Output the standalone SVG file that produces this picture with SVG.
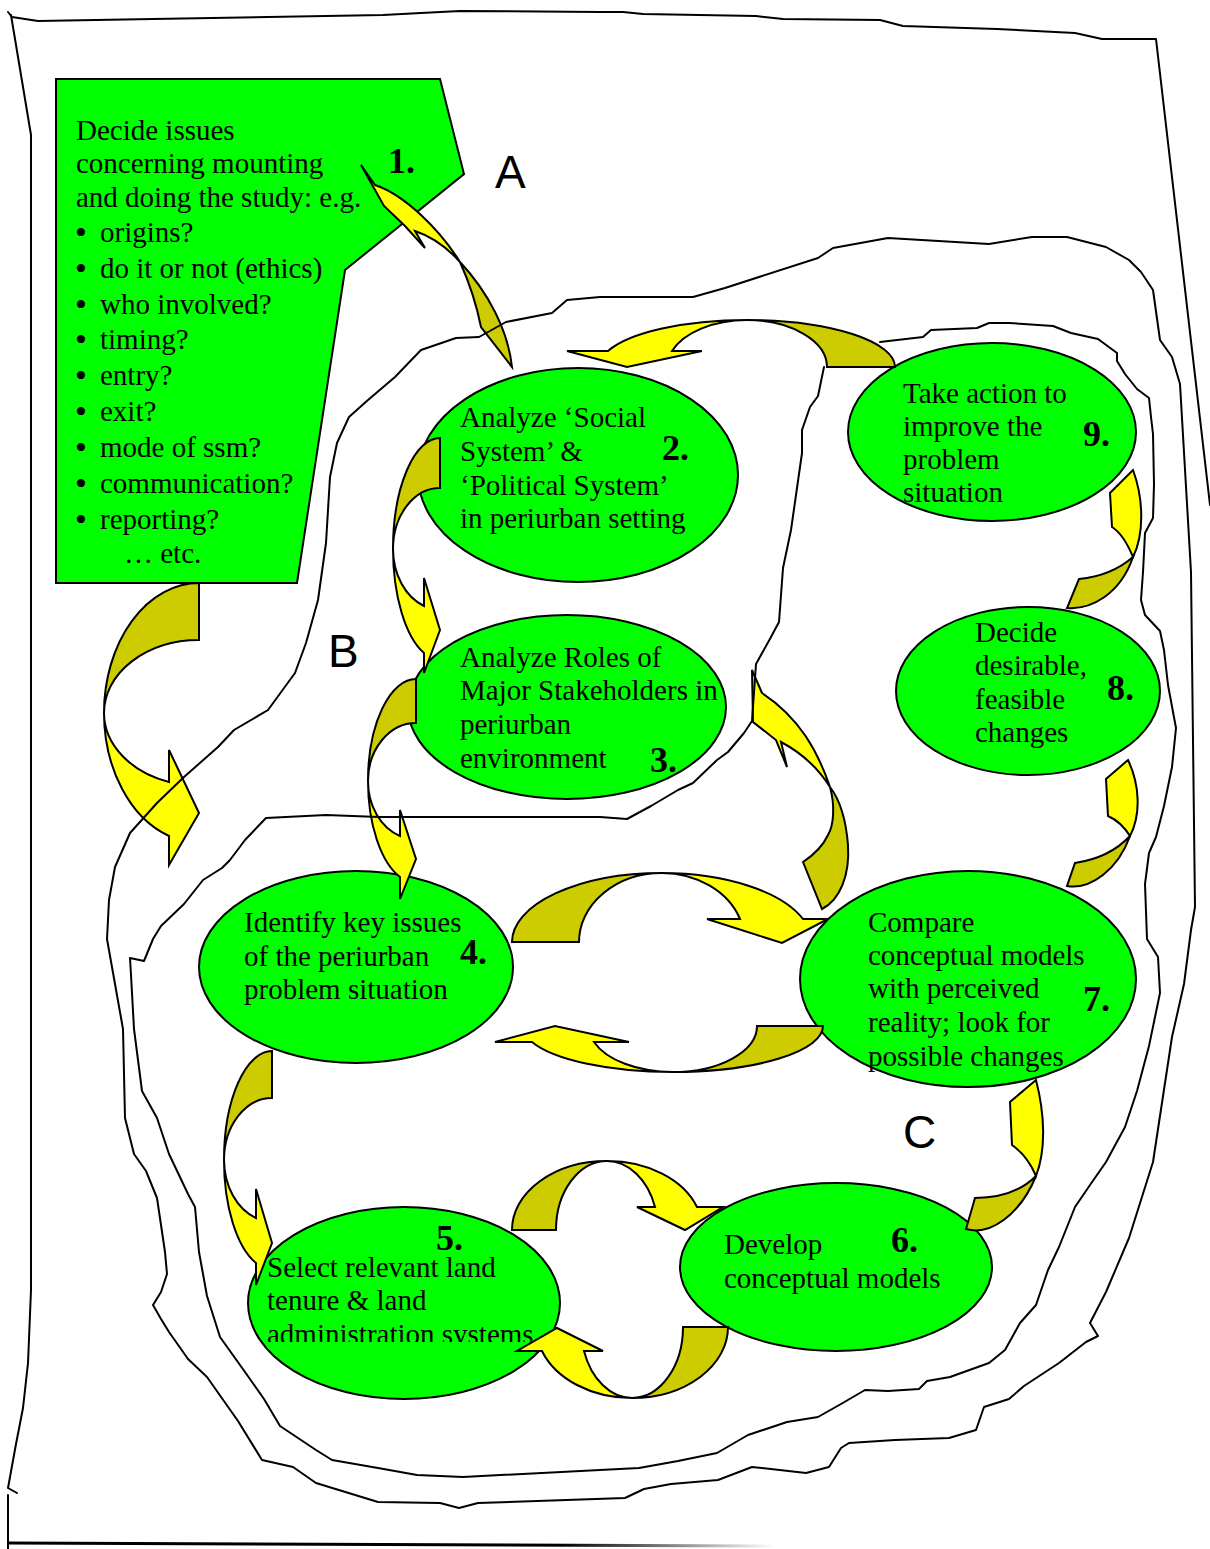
<svg xmlns="http://www.w3.org/2000/svg" width="1210" height="1549" viewBox="0 0 1210 1549">
<style>
  .ln{fill:none;stroke:#000;stroke-width:2;stroke-linejoin:round;stroke-linecap:round}
  .nd{fill:#00FF00;stroke:#000;stroke-width:2}
  .fr{fill:#FFFF00;stroke:#000;stroke-width:2;stroke-linejoin:miter}
  .bk{fill:#CCCC00;stroke:#000;stroke-width:2;stroke-linejoin:miter}
  .t{font-family:"Liberation Serif","Times New Roman",serif;font-size:29px;fill:#000}
  .b{font-size:34px}
  .n{font-family:"Liberation Serif","Times New Roman",serif;font-size:36px;font-weight:bold;fill:#000}
  .r{font-family:"Liberation Sans",Arial,sans-serif;font-size:46px;fill:#000}
</style>
<defs>
  <linearGradient id="fade" gradientUnits="userSpaceOnUse" x1="8" y1="0" x2="775" y2="0">
    <stop offset="0.72" stop-color="#000"/>
    <stop offset="1" stop-color="#fff"/>
  </linearGradient>
  <clipPath id="clip5"><rect x="240" y="1200" width="330" height="142"/></clipPath>
</defs>
<rect width="1210" height="1549" fill="#fff"/>

<!-- outer sheet outline -->
<g id="frame">
  <path class="ln" d="M8,12 L12,17 L38,21 L153,19 L268,17 L383,15 L421,13 L460,11 L600,12 L623,12 L643,14 L756,16 L783,19 L880,20 L903,26 L997,29 L1075,33 L1102,39 L1156,39 L1210,505"/>
  <path class="ln" d="M11,15 L31,135 L31,1290 L28,1363 L23,1408 L16,1444 L8,1488 L17,1493"/>
  <path class="ln" d="M8,1495 L8,1549"/>
  <path d="M8,1543 L775,1546" fill="none" stroke="url(#fade)" stroke-width="3"/>
</g>

<!-- process steps -->
<g id="node1">
  <path class="nd" d="M56,79 L440,79 L464,174 L345,270 L297,583 L56,583 Z"/>
  <text class="t"><tspan x="76" y="140">Decide issues</tspan><tspan x="76" y="173">concerning mounting</tspan><tspan x="76" y="207">and doing the study: e.g.</tspan></text>
  <text class="t">
    <tspan class="b" x="75" y="244">•</tspan><tspan x="100" y="242">origins?</tspan>
    <tspan class="b" x="75" y="280">•</tspan><tspan x="100" y="278">do it or not (ethics)</tspan>
    <tspan class="b" x="75" y="316">•</tspan><tspan x="100" y="314">who involved?</tspan>
    <tspan class="b" x="75" y="351">•</tspan><tspan x="100" y="349">timing?</tspan>
    <tspan class="b" x="75" y="387">•</tspan><tspan x="100" y="385">entry?</tspan>
    <tspan class="b" x="75" y="423">•</tspan><tspan x="100" y="421">exit?</tspan>
    <tspan class="b" x="75" y="459">•</tspan><tspan x="100" y="457">mode of ssm?</tspan>
    <tspan class="b" x="75" y="495">•</tspan><tspan x="100" y="493">communication?</tspan>
    <tspan class="b" x="75" y="531">•</tspan><tspan x="100" y="529">reporting?</tspan>
    <tspan x="124" y="563">… etc.</tspan>
  </text>
  <text class="n" x="388" y="173">1.</text>
</g>

<g id="node2">
  <ellipse class="nd" cx="578" cy="475" rx="160" ry="107"/>
  <text class="t"><tspan x="460" y="427">Analyze ‘Social</tspan><tspan x="460" y="461">System’ &amp;</tspan><tspan x="460" y="495">‘Political System’</tspan><tspan x="460" y="528">in periurban setting</tspan></text>
  <text class="n" x="662" y="460">2.</text>
</g>

<g id="node3">
  <ellipse class="nd" cx="567" cy="707" rx="159" ry="92"/>
  <text class="t"><tspan x="460" y="667">Analyze Roles of</tspan><tspan x="460" y="700">Major Stakeholders in</tspan><tspan x="460" y="734">periurban</tspan><tspan x="460" y="768">environment</tspan></text>
  <text class="n" x="650" y="772">3.</text>
</g>

<g id="node4">
  <ellipse class="nd" cx="356" cy="967" rx="157" ry="96"/>
  <text class="t"><tspan x="244" y="932">Identify key issues</tspan><tspan x="244" y="966">of the periurban</tspan><tspan x="244" y="999">problem situation</tspan></text>
  <text class="n" x="460" y="964">4.</text>
</g>

<g id="node5">
  <ellipse class="nd" cx="404" cy="1303" rx="156" ry="96"/>
  <text class="n" x="436" y="1250">5.</text>
  <text class="t" clip-path="url(#clip5)"><tspan x="267" y="1277">Select relevant land</tspan><tspan x="267" y="1310">tenure &amp; land</tspan><tspan x="267" y="1344">administration systems</tspan></text>
</g>

<g id="node6">
  <ellipse class="nd" cx="836" cy="1267" rx="156" ry="84"/>
  <text class="t"><tspan x="724" y="1254">Develop</tspan><tspan x="724" y="1288">conceptual models</tspan></text>
  <text class="n" x="891" y="1252">6.</text>
</g>

<g id="node7">
  <ellipse class="nd" cx="968" cy="979" rx="168" ry="108"/>
  <text class="t"><tspan x="868" y="932">Compare</tspan><tspan x="868" y="965">conceptual models</tspan><tspan x="868" y="998">with perceived</tspan><tspan x="868" y="1032">reality; look for</tspan><tspan x="868" y="1066">possible changes</tspan></text>
  <text class="n" x="1083" y="1011">7.</text>
</g>

<g id="node8">
  <ellipse class="nd" cx="1028" cy="691" rx="132" ry="84"/>
  <text class="t"><tspan x="975" y="642">Decide</tspan><tspan x="975" y="675">desirable,</tspan><tspan x="975" y="709">feasible</tspan><tspan x="975" y="742">changes</tspan></text>
  <text class="n" x="1107" y="700">8.</text>
</g>

<g id="node9">
  <ellipse class="nd" cx="992" cy="432" rx="144" ry="89"/>
  <text class="t"><tspan x="903" y="403">Take action to</tspan><tspan x="903" y="436">improve the</tspan><tspan x="903" y="469">problem</tspan><tspan x="903" y="502">situation</tspan></text>
  <text class="n" x="1083" y="446">9.</text>
</g>

<!-- curved two-tone arrows: olive = back of the band, yellow = front with head -->
<g id="connectors">
  <!-- 1 / 2 -->
  <path class="bk" d="M460,262 C488,292 508,330 512,367 L481,327 C476,302 469,282 460,262 Z"/>
  <path class="fr" d="M361,165 L375,185 C405,195 440,230 460,262 C445,245 430,236 415,231 L425,248 L405,226 L384,206 Z"/>
  <!-- 1 to region B -->
  <path class="bk" d="M199,583 A95,130 0 0,0 104,713 A95,73 0 0,1 199,640 Z"/>
  <path class="fr" d="M104,713 A95,130 0 0,0 169,836 L169,865 L199,813 L169,750 L169,782 A95,73 0 0,1 104,713 Z"/>
  <!-- 2 to 3 -->
  <path class="bk" d="M440,438 A47,111 0 0,0 393,549 A47,61 0 0,1 440,488 Z"/>
  <path class="fr" d="M393,549 A47,111 0 0,0 424,653 L424,673 L440,630 L424,578 L424,606 A47,61 0 0,1 393,549 Z"/>
  <!-- 3 to 4 -->
  <path class="bk" d="M416,679 A48,102 0 0,0 368,781 A48,58 0 0,1 416,723 Z"/>
  <path class="fr" d="M368,781 A48,102 0 0,0 400,877 L400,899 L416,859 L400,810 L400,836 A48,58 0 0,1 368,781 Z"/>
  <!-- 4 to 5 -->
  <path class="bk" d="M272,1051 A48,109 0 0,0 224,1160 A48,62 0 0,1 272,1098 Z"/>
  <path class="fr" d="M224,1160 A48,109 0 0,0 256,1263 L256,1285 L272,1243 L256,1189 L256,1218 A48,62 0 0,1 224,1160 Z"/>
  <!-- 5 to 6 -->
  <path class="bk" d="M512,1230 A95,69 0 0,1 607,1161 A51,69 0 0,0 556,1230 Z"/>
  <path class="fr" d="M607,1161 A95,69 0 0,1 697,1207 L723,1207 L685,1230 L637,1207 L655,1207 A51,69 0 0,0 607,1161 Z"/>
  <!-- 6 to 5 -->
  <path class="bk" d="M728,1327 A96,71 0 0,1 632,1398 A51,71 0 0,0 683,1327 Z"/>
  <path class="fr" d="M632,1398 A96,71 0 0,1 542,1351 L517,1351 L557,1328 L603,1351 L584,1351 A51,71 0 0,0 632,1398 Z"/>
  <!-- 4 to 7 -->
  <path class="bk" d="M512,942 A150,69 0 0,1 662,873 A83,69 0 0,0 579,942 Z"/>
  <path class="fr" d="M662,873 A150,69 0 0,1 803,919 L828,919 L782,943 L707,919 L740,919 A83,69 0 0,0 662,873 Z"/>
  <!-- 7 to 4 -->
  <path class="bk" d="M823,1026 A150,46 0 0,1 673,1072 A84,46 0 0,0 757,1026 Z"/>
  <path class="fr" d="M673,1072 A150,46 0 0,1 532,1042 L495,1042 L555,1026 L629,1042 L594,1042 A84,46 0 0,0 673,1072 Z"/>
  <!-- 9 to 2 -->
  <path class="bk" d="M895,367 A148,47 0 0,0 747,320 A80,47 0 0,1 827,367 Z"/>
  <path class="fr" d="M747,320 A148,47 0 0,0 608,351 L567,351 L627,367 L702,351 L672,351 A80,47 0 0,1 747,320 Z"/>
  <!-- 7 to 3 -->
  <path class="bk" d="M803,862 L822,909 C840,900 850,875 848,845 C846,820 840,800 830,787 C835,805 834,825 828,835 C822,848 812,856 803,862 Z"/>
  <path class="fr" d="M830,787 C818,752 800,718 762,693 L752,670 L753,722 L776,740 L787,767 L781,742 C800,752 818,768 830,787 Z"/>
  <!-- 6 to 7 -->
  <path class="bk" d="M966,1229 C990,1236 1020,1215 1036,1176 C1020,1192 1000,1198 975,1198 Z"/>
  <path class="fr" d="M1036,1176 C1046,1150 1045,1115 1036,1080 L1010,1102 L1012,1145 C1022,1152 1030,1162 1036,1176 Z"/>
  <!-- 7 to 8 -->
  <path class="bk" d="M1067,886 C1090,890 1118,870 1130,836 C1115,852 1095,860 1075,863 Z"/>
  <path class="fr" d="M1130,836 C1141,815 1140,785 1128,760 L1106,779 L1108,816 C1117,820 1125,828 1130,836 Z"/>
  <!-- 8 to 9 -->
  <path class="bk" d="M1067,608 C1090,610 1120,595 1133,557 C1118,570 1100,577 1079,579 Z"/>
  <path class="fr" d="M1133,557 C1144,535 1144,500 1133,470 L1110,493 L1112,527 C1120,532 1128,545 1133,557 Z"/>
</g>

<!-- hand-drawn region boundaries -->
<g id="regions">
  <path class="ln" d="M368,400 L395,377 L421,350 L456,338 L479,337 L506,322 L552,313 L567,300 L600,297 L693,297 L725,288 L818,258 L833,248 L888,238 L989,244 L1032,237 L1067,237 L1106,247 L1129,260 L1141,272 L1153,290 L1160,340 L1172,357 L1180,384 L1191,572 L1195,907 L1191,930 L1184,984 L1172,1037 L1153,1162 L1129,1238 L1106,1292 L1090,1323 L1098,1336 L1086,1342 L1059,1363 L1024,1386 L1009,1399 L984,1407 L976,1430 L949,1438 L895,1440 L849,1443 L841,1448 L829,1467 L806,1473 L752,1467 L718,1480 L671,1484 L644,1489 L625,1498 L478,1503 L459,1508 L440,1503 L378,1502 L316,1483 L293,1467 L262,1460 L238,1421 L207,1377 L188,1359 L169,1332 L161,1319 L153,1305 L161,1292 L167,1274 L165,1252 L157,1198 L146,1171 L134,1154 L125,1118 L123,1029 L115,984 L107,939 L109,900 L115,867 L130,833 L157,803 L184,777 L218,747 L234,730 L268,710 L295,673 L306,643 L318,600 L326,543 L330,477 L337,443 L349,417 Z"/>
  <path class="ln" d="M880,342 L923,337 L931,330 L977,328 L989,323 L1009,323 L1053,326 L1071,333 L1098,339 L1117,353 L1117,361 L1125,374 L1137,389 L1149,398 L1151,417 L1153,434 L1154,484 L1153,518 L1145,533 L1143,572 L1141,600 L1145,615 L1160,631 L1164,650 L1168,685 L1176,728 L1172,767 L1164,806 L1156,837 L1149,853 L1145,884 L1147,939 L1158,957 L1160,993 L1149,1046 L1137,1091 L1125,1127 L1106,1162 L1090,1185 L1075,1207 L1059,1247 L1048,1270 L1036,1305 L1020,1323 L1005,1350 L989,1363 L950,1377 L927,1381 L919,1389 L888,1391 L865,1390 L841,1404 L818,1417 L787,1422 L748,1435 L717,1453 L678,1461 L639,1468 L600,1470 L463,1477 L417,1475 L378,1468 L332,1460 L316,1450 L280,1426 L264,1399 L245,1372 L220,1337 L207,1296 L199,1252 L195,1207 L188,1194 L169,1154 L157,1118 L142,1091 L134,1029 L131,975 L130,958 L144,961 L153,939 L161,926 L184,904 L203,880 L222,868 L230,860 L245,840 L266,818 L326,815 L379,817 L600,817 L627,819 L651,806 L678,790 L693,783 L717,760 L728,752 L744,733 L752,721 L756,664 L771,637 L779,622 L783,568 L791,530 L802,453 L802,430 L810,407 L818,396 L824,367"/>
  <text class="r" x="495" y="188">A</text>
  <text class="r" x="328" y="667">B</text>
  <text class="r" x="903" y="1148">C</text>
</g>
</svg>
